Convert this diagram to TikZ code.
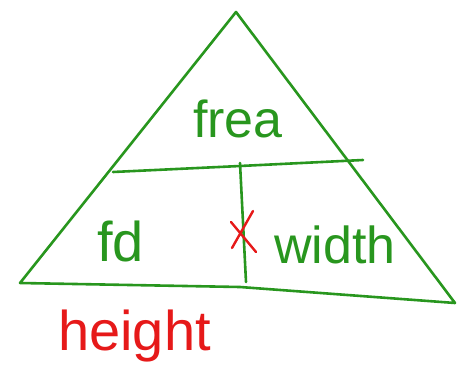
\documentclass[tikz,border=0pt]{standalone}
\usepackage{fontspec}
\setmainfont{Liberation Sans}
\definecolor{pen}{RGB}{40,150,30}
\definecolor{redpen}{RGB}{230,25,25}
\begin{document}
\begin{tikzpicture}[x=1pt,y=-1pt,
  stroke/.style={draw=pen,line width=2.6pt,line cap=round,line join=round},
  gtxt/.style={text=pen,inner sep=0pt,anchor=base west},
  rtxt/.style={text=redpen,inner sep=0pt,anchor=base west}]
\useasboundingbox (0,0) rectangle (457,385);
\coordinate (apex) at (236,12);
\coordinate (bl) at (20,283);
\coordinate (bm) at (240,287);
\coordinate (br) at (455,303);
\coordinate (ml) at (113,172);
\coordinate (mm) at (240,166);
\coordinate (mr) at (363,160);
\coordinate (vt) at (240,163);
\coordinate (vb) at (246,282);
\draw[stroke] (apex) -- (bl) -- (bm) -- (br) -- cycle;
\draw[stroke] (ml) -- (mm) -- (mr);
\draw[stroke] (vt) -- (vb);
\node[gtxt,font=\fontsize{52}{52}\selectfont] (area) at (193,137) {frea};
\node[gtxt,font=\fontsize{56}{56}\selectfont] (fd) at (97,261) {fd};
\node[gtxt,font=\fontsize{52}{52}\selectfont] (width) at (274,263) {width};
\node[rtxt,font=\fontsize{56}{56}\selectfont] (height) at (58,350) {height};
\coordinate (xa) at (253,211);
\coordinate (xb) at (232,248);
\coordinate (xc) at (231,222);
\coordinate (xd) at (256,252);
\draw[draw=redpen,line width=2.4pt,line cap=round] (xa) -- (xb) (xc) -- (xd);
\end{tikzpicture}
\end{document}
